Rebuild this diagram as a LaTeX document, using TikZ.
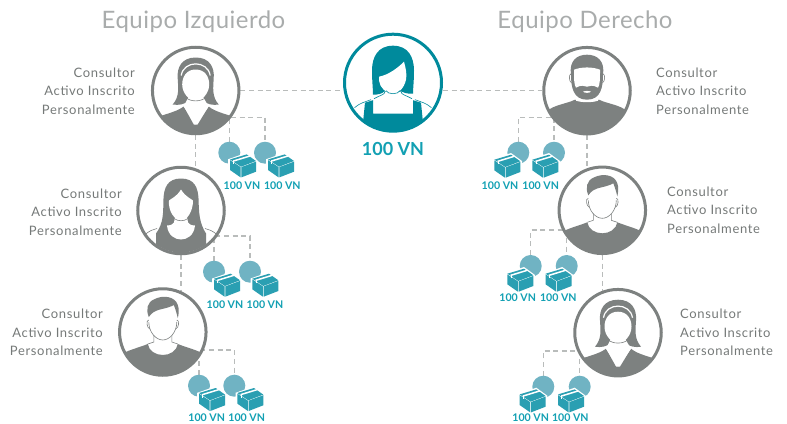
\documentclass[tikz,border=0pt]{standalone}
\usepackage{fontspec}
\setmainfont{Lato}
\usetikzlibrary{backgrounds}
\definecolor{ring}{HTML}{7D8180}
\definecolor{dashc}{HTML}{B9BCBB}
\definecolor{tealc}{HTML}{008A9C}
\definecolor{disc}{HTML}{70B3C3}
\definecolor{boxc}{HTML}{2A9FB2}
\definecolor{labc}{HTML}{12A0B3}
\definecolor{titlec}{HTML}{A9ACAC}
\definecolor{textc}{HTML}{757978}
\newfontfamily\spaced[LetterSpace=5]{Lato}
\newfontfamily\titlefont[LetterSpace=2]{Lato}
\tikzset{
  person/.style={circle,draw=ring,line width=3pt,fill=white,minimum size=86.5pt,inner sep=0pt},
  hub/.style={circle,draw=tealc,line width=3pt,fill=white,minimum size=97pt,inner sep=0pt},
  link/.style={draw=dashc,line width=1.3pt,dash pattern=on 5pt off 3.6pt},
  disco/.style={circle,fill=disc,minimum size=22pt,inner sep=0pt},
  vn/.style={font=\fontsize{10.6}{11}\selectfont\bfseries,text=labc,inner sep=0pt},
  role/.style={font=\spaced\fontsize{13}{18.3}\selectfont,text=textc,inner sep=0pt},
  roleL/.style={role,align=right,anchor=east},
  roleR/.style={role,align=left,anchor=west},
  heading/.style={font=\titlefont\fontsize{24}{26}\selectfont,text=titlec,inner sep=0pt},
  thin outline/.style={draw=ring,line width=.6pt},
  parcel/.pic={
    \fill[white] (-14.5,-6.5)--(4,-13)--(15,-5)--(15,7)--(-1.7,13.5)--(-14.5,6)--cycle;
    \fill[boxc] (-12.7,-6.3)--(4,-11.3)--(13.3,-4.7)--(-1.7,1)--cycle;
    \fill[boxc] (-12.7,-5.6)--(-2.1,1.4)--(-2.1,11.7)--(-12.7,4.3)--cycle;
    \fill[boxc] (-1.4,1.4)--(13.3,-4.1)--(13.3,6)--(-1.4,11.7)--cycle;
    \draw[white,line width=1.5pt] (-9.5,-4.6)--(7.5,-9.8);
    \draw[white,line width=.6pt] (-9.2,-1.8)--(-9.2,-4.4);
  },
  bandwoman/.pic={
    \begin{scope}
    \clip (0,0) circle (42.5);
    \fill[ring] (-45,50)--(-45,29) .. controls (-33,24) and (-20,22) .. (-12,16) -- (-2,34) -- (2,34) -- (13,16) .. controls (20,22) and (33,24) .. (45,29) -- (45,50)--cycle;
    \fill[ring] (0,-33) .. controls (-14,-33) and (-19,-23) .. (-18,-12) .. controls (-17.5,-3) and (-16,6) .. (-23,14) .. controls (-17,15) and (-11,14) .. (-7,10) -- (7,10) .. controls (11,14) and (18,15) .. (23,14) .. controls (16,6) and (17.5,-3) .. (18,-12) .. controls (19,-23) and (14,-33) .. (0,-33)--cycle;
    \fill[white] (-7,6)--(7,6)--(13,16)--(0,34)--(-12,16)--cycle;
    \fill[white] (0,-21) .. controls (-9,-21) and (-13.5,-14) .. (-13.5,-6) .. controls (-13.5,3) and (-6,10.5) .. (0,10.5) .. controls (6,10.5) and (13.5,3) .. (13.5,-6) .. controls (13.5,-14) and (9,-21) .. (0,-21)--cycle;
    \draw[white,line width=1.2pt] (-14.5,-15) .. controls (-12,-30.5) and (12,-30.5) .. (14.5,-15);
    \draw[thin outline] (-10,7) .. controls (-5,11.5) and (5,11.5) .. (10,7);
    \end{scope}
  },
  longwoman/.pic={
    \begin{scope}
    \clip (0,0) circle (42);
    \draw[thin outline] (-36,24) .. controls (-31,20) and (-28,19) .. (-24,18);
    \draw[thin outline] (36,24) .. controls (31,20) and (28,19) .. (24,18);
    \fill[ring] (0,-32) .. controls (-14,-32) and (-17,-22) .. (-17.5,-12) .. controls (-18,2) and (-17,12) .. (-25,23) -- (-25,50) -- (25,50) -- (25,23) .. controls (18,12) and (18,2) .. (17.5,-12) .. controls (17,-22) and (14,-32) .. (0,-32)--cycle;
    \fill[white] (-6,6)--(6,6)--(7,12) .. controls (9,15) and (13,15) .. (14,15) .. controls (13,25) and (6,29) .. (0,29) .. controls (-6,29) and (-13,25) .. (-14,15) .. controls (-13,15) and (-9,15) .. (-7,12)--cycle;
    \fill[white] (0,-21) .. controls (-5,-13) and (-10,-12) .. (-12,-10) .. controls (-13,1) and (-6,10) .. (0,10) .. controls (6,10) and (12,1) .. (12,-10) .. controls (10,-12) and (5,-13) .. (0,-21)--cycle;
    \draw[thin outline] (-7,8) .. controls (-3,11) and (3,11) .. (7,8);
    \end{scope}
  },
  shortman/.pic={
    \begin{scope}
    \clip (0,0) circle (42.5);
    \fill[ring] (-45,50)--(-45,24) .. controls (-35,18) and (-25,16) .. (-15,12) .. controls (-14,19) and (-7,23) .. (0,23) .. controls (7,23) and (14,19) .. (15,12) .. controls (25,16) and (35,18) .. (45,24) -- (45,50)--cycle;
    \draw[thin outline] (-15,12)--(-9,10) -- (-9,3);
    \draw[thin outline] (15,12)--(9,10) -- (9,3);
    \fill[white] (0,-28) .. controls (-9,-28) and (-14,-20) .. (-14,-10) .. controls (-14,0) and (-7,8) .. (0,8) .. controls (7,8) and (14,0) .. (14,-10) .. controls (14,-20) and (9,-28) .. (0,-28)--cycle;
    \draw[thin outline] (-14,-10) .. controls (-14,0) and (-7,8) .. (0,8) .. controls (7,8) and (14,0) .. (14,-10);
    \draw[thin outline] (-14,-12) .. controls (-17,-12) and (-16,-4) .. (-13,-3);
    \draw[thin outline] (14,-12) .. controls (17,-12) and (16,-4) .. (13,-3);
    \fill[ring] (-14,-15) .. controls (-17,-22) and (-16,-30) .. (-8,-33) .. controls (0,-37) and (12,-36) .. (15,-27) .. controls (16.5,-23) and (16,-18) .. (15,-14) .. controls (14,-18) and (13,-22) .. (11,-27) .. controls (4,-23) and (-5,-23) .. (-9,-20) .. controls (-12,-18) and (-13,-16) .. (-14,-15)--cycle;
    \end{scope}
  },
  beardman/.pic={
    \begin{scope}
    \clip (0,0) circle (42.5);
    \fill[ring] (-45,50)--(-45,26) .. controls (-38,14) and (-22,14) .. (-12,9) .. controls (-6,11) and (6,11) .. (12,9) .. controls (22,14) and (38,14) .. (45,26) -- (45,50)--cycle;
    \fill[white] (-11,4)--(11,4)--(11,10) .. controls (5,12) and (-5,12) .. (-11,10)--cycle;
    \fill[ring] (0,-36) .. controls (-11,-36) and (-18,-29) .. (-16,-16) .. controls (-16,-4) and (-14,9) .. (0,9) .. controls (14,9) and (16,-4) .. (16,-16) .. controls (18,-29) and (11,-36) .. (0,-36)--cycle;
    \fill[white] (-13,-21) .. controls (-5,-24) and (5,-24) .. (13,-21) .. controls (13,-12) and (13,-6) .. (11,-3) .. controls (6,-6) and (3,-5) .. (0,-4) .. controls (-3,-5) and (-6,-6) .. (-11,-3) .. controls (-13,-6) and (-13,-12) .. (-13,-21)--cycle;
    \fill[white] (-4,1) .. controls (-2,2.5) and (2,2.5) .. (4,1) .. controls (2,0) and (-2,0) .. (-4,1)--cycle;
    \draw[thin outline] (-16,-17) .. controls (-18.5,-16) and (-18,-9) .. (-15.5,-8);
    \draw[thin outline] (16,-17) .. controls (18.5,-16) and (18,-9) .. (15.5,-8);
    \end{scope}
  },
  hubwoman/.pic={
    \begin{scope}
    \clip (0,0) circle (48);
    \draw[draw=tealc,line width=.6pt] (-38.5,25) .. controls (-33,20) and (-27,19) .. (-22,17);
    \draw[draw=tealc,line width=.6pt] (38.5,25) .. controls (33,20) and (27,19) .. (22,17);
    \fill[tealc] (-28,20)--(-20,17.5)--(-20,31)--(20,31)--(20,17.5)--(28,20)--(32,60)--(-32,60)--cycle;
    \fill[tealc] (0,-37) .. controls (-15,-37) and (-21,-26) .. (-21,-12) .. controls (-21,-2) and (-20,6) .. (-20,12) .. controls (-15,12) and (-11,11) .. (-9,9) -- (9,9) .. controls (13,11) and (16,11) .. (20,11) .. controls (20,6) and (21,-2) .. (21,-12) .. controls (21,-26) and (15,-37) .. (0,-37)--cycle;
    \fill[white] (-14,-6) .. controls (-4,-8) and (5,-15) .. (11,-21) .. controls (13,-14) and (14,-8) .. (13,-3) .. controls (11,6) and (5,11) .. (0,11) .. controls (-7,11) and (-13,5) .. (-14,-2)--cycle;
    \draw[draw=tealc,line width=.6pt] (-7,8) .. controls (-5,12) and (5,12) .. (7,8);
    \draw[draw=tealc,line width=.6pt] (-8,9) .. controls (-8,12) and (-14,13) .. (-19,16);
    \draw[draw=tealc,line width=.6pt] (8,9) .. controls (8,12) and (14,13) .. (19,16);
    \end{scope}
  }
}
\begin{document}
\begin{tikzpicture}[x=1pt,y=-1pt]
\useasboundingbox (0,0) rectangle (787,423);
% people
\node[hub] (hubp) at (393,82.7) {};
\node[person] (lone) at (195.7,90.5) {};
\node[person] (ltwo) at (181,210.5) {};
\node[person] (lthree) at (162.8,332) {};
\node[person] (rone) at (587,90.7) {};
\node[person] (rtwo) at (602.3,210.3) {};
\node[person] (rthree) at (618,332.7) {};
\pic at (hubp) {hubwoman};
\pic at (lone) {bandwoman};
\pic at (ltwo) {longwoman};
\pic at (lthree) {shortman};
\pic at (rone) {beardman};
\pic at (rtwo) {shortman};
\pic at (rthree) {bandwoman};
% discs
\node[disco] (la) at (229.3,152.7) {};
\node[disco] (lb) at (265,152.7) {};
\node[disco] (lc) at (214,271.7) {};
\node[disco] (ld) at (250,271.7) {};
\node[disco] (le) at (199,385.7) {};
\node[disco] (lf) at (234.3,385.7) {};
\node[disco] (ra) at (518.3,152.7) {};
\node[disco] (rb) at (554,152.7) {};
\node[disco] (rc) at (530.7,266) {};
\node[disco] (rd) at (566.7,266) {};
\node[disco] (re) at (543.3,386.7) {};
\node[disco] (rf) at (579.7,386.7) {};
% parcels
\pic at (242.7,165.7) {parcel};
\pic at (280.7,165.7) {parcel};
\pic at (226.7,285) {parcel};
\pic at (265,285) {parcel};
\pic at (211.7,399.3) {parcel};
\pic at (250,399.3) {parcel};
\pic at (507,166) {parcel};
\pic at (545,166) {parcel};
\pic at (520,280) {parcel};
\pic at (558.3,280) {parcel};
\pic at (532.3,400.7) {parcel};
\pic at (570.7,400.7) {parcel};
% connectors
\begin{scope}[on background layer]
\draw[link] (lone.east |- 0,90.7) -- (hubp.west |- 0,90.7);
\draw[link] (hubp.east |- 0,90.7) -- (rone.west |- 0,90.7);
\draw[link] (lone) -- (ltwo.center -| lone);
\draw[link] (ltwo) -- (lthree.center -| ltwo);
\draw[link] (rone) -- (rtwo.center -| rone);
\draw[link] (rtwo) -- (rthree.center -| rtwo);
\draw[link] (la.north) -- (la.north |- 0,117.3) -- (lb.north |- 0,117.3) -- (lb.north);
\draw[link] (lc.north) -- (lc.north |- 0,236) -- (ld.north |- 0,236) -- (ld.north);
\draw[link] (le.north) -- (le.north |- 0,350) -- (lf.north |- 0,350) -- (lf.north);
\draw[link] (ra.north) -- (ra.north |- 0,117.3) -- (rb.north |- 0,117.3) -- (rb.north);
\draw[link] (rc.north) -- (rc.north |- 0,230) -- (rd.north |- 0,230) -- (rd.north);
\draw[link] (re.north) -- (re.north |- 0,351) -- (rf.north |- 0,351) -- (rf.north);
\end{scope}
% texts
\node[heading] (tl) at (193.5,22) {Equipo Izquierdo};
\node[heading] (tr) at (585,22) {Equipo Derecho};
\node[font=\fontsize{18}{20}\selectfont\bfseries,text=labc,inner sep=0pt] (hublab) at (393,149) {100 VN};
\node[roleL] (ta) at (135,91) {Consultor\\Activo Inscrito\\Personalmente};
\node[roleL] (tb) at (122,212) {Consultor\\Activo Inscrito\\Personalmente};
\node[roleL] (tc) at (103,332.5) {Consultor\\Activo Inscrito\\Personalmente};
\node[roleR] (td) at (656,91) {Consultor\\Activo Inscrito\\Personalmente};
\node[roleR] (te) at (667,210) {Consultor\\Activo Inscrito\\Personalmente};
\node[roleR] (tf) at (680,332.5) {Consultor\\Activo Inscrito\\Personalmente};
\node[vn] (va) at (242,185.5) {100 VN};
\node[vn] (vb) at (282.3,185.5) {100 VN};
\node[vn] (vc) at (225,304.3) {100 VN};
\node[vn] (vd) at (265,304.3) {100 VN};
\node[vn] (ve) at (206.7,417.3) {100 VN};
\node[vn] (vf) at (246.7,417.3) {100 VN};
\node[vn] (vg) at (500,185.5) {100 VN};
\node[vn] (vh) at (540.7,185.5) {100 VN};
\node[vn] (vi) at (517.7,297.3) {100 VN};
\node[vn] (vj) at (558.3,297.3) {100 VN};
\node[vn] (vk) at (530.7,417.7) {100 VN};
\node[vn] (vl) at (570.3,417.7) {100 VN};
\end{tikzpicture}
\end{document}
